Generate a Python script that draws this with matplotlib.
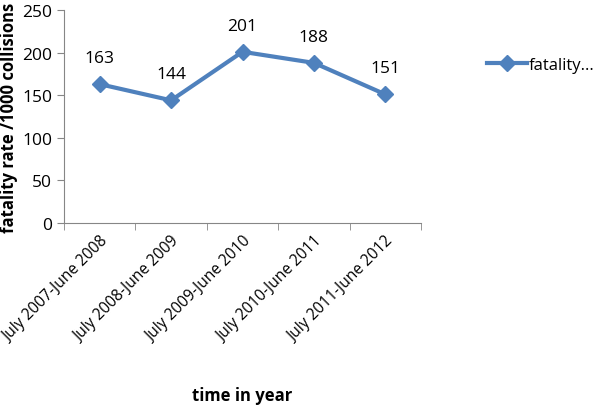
import matplotlib
matplotlib.use('Agg')
import matplotlib.pyplot as plt

# data
periods = ['July 2007-June 2008', 'July 2008-June 2009', 'July 2009-June 2010',
           'July 2010-June 2011', 'July 2011-June 2012']
fatality = [163, 144, 201, 188, 151]
y_ticks = [0, 50, 100, 150, 200, 250]

plt.rcParams['font.family'] = ['Open Sans', 'DejaVu Sans']

fig = plt.figure(figsize=(6, 4.1), dpi=100)
ax = fig.add_axes([0.1067, 0.4537, 0.595, 0.5193])

x = list(range(len(periods)))
line, = ax.plot(x, fatality, color='#4F81BD', lw=3, marker='D', ms=8,
                label='fatality...')

for xi, v in zip(x, fatality):
    ax.annotate(str(v), (xi, v), xytext=(0, 13), textcoords='offset points',
                ha='center', va='bottom', fontsize=12.5)

ax.set_xlim(-0.5, len(periods) - 0.5)
ax.set_ylim(0, 250)
ax.set_yticks(y_ticks)
ax.set_xticks(x)
ax.set_xticklabels(periods, rotation=45, ha='right', rotation_mode='anchor', fontsize=11.2)
ax.set_xticks([i - 0.5 for i in range(len(periods) + 1)], minor=True)
ax.tick_params(axis='x', which='major', length=0, pad=7)
ax.tick_params(axis='x', which='minor', length=5, color='#868686')
ax.tick_params(axis='y', length=5, color='#868686', labelsize=12.5)

for s in ['top', 'right']:
    ax.spines[s].set_visible(False)
for s in ['left', 'bottom']:
    ax.spines[s].set_color('#868686')

ax.set_ylabel('fatality rate /1000 collisions', fontsize=12, fontweight='bold', labelpad=3)
ax.set_xlabel('time in year', fontsize=12, fontweight='bold', labelpad=30)

fig.legend(handles=[line], loc='center left', bbox_to_anchor=(0.812, 0.84),
           frameon=False, fontsize=12, handlelength=2.4, handletextpad=0.1,
           borderpad=0, borderaxespad=0)

fig.savefig('out.png', dpi=100)
